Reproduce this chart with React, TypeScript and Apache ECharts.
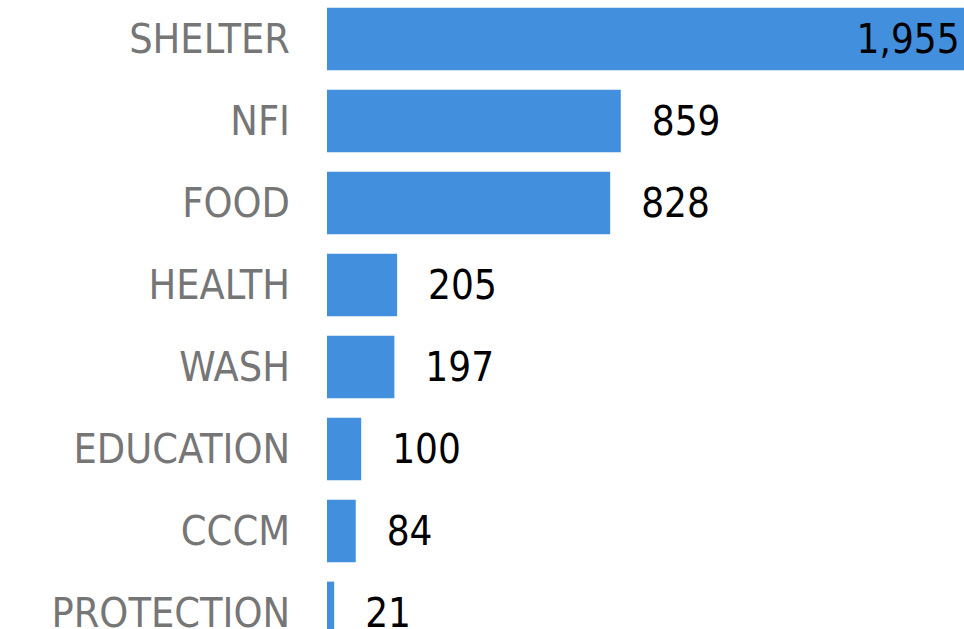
import React, { useEffect, useRef } from "react";
import * as echarts from "echarts";

const categories = ["SHELTER", "NFI", "FOOD", "HEALTH", "WASH", "EDUCATION", "CCCM", "PROTECTION"];
const values = [1955, 859, 828, 205, 197, 100, 84, 21];

const FONT = "'Liberation Sans Narrow', 'DejaVu Sans Condensed', sans-serif";

export default function App() {
  const ref = useRef<HTMLDivElement>(null);
  useEffect(() => {
    if (!ref.current) return;
    const chart = echarts.init(ref.current, null, { renderer: "svg" });
    chart.setOption({
      animation: false,
      backgroundColor: "#ffffff",
      grid: { left: 327, right: 0, top: 0, bottom: 0, containLabel: false },
      xAxis: {
        type: "value",
        min: 0,
        max: 2000,
        show: false,
      },
      yAxis: {
        type: "category",
        data: categories,
        inverse: true,
        axisLine: { show: false },
        axisTick: { show: false },
        splitLine: { show: false },
        axisLabel: {
          margin: 37,
          color: "#767676",
          fontSize: 41,
          fontFamily: FONT,
        },
      },
      series: [
        {
          type: "bar",
          data: values.map((v, i) =>
            i === 0
              ? { value: v, label: { position: "insideRight", distance: 36 } }
              : v
          ),
          barCategoryGap: "23.5%",
          itemStyle: { color: "#428fde" },
          label: {
            show: true,
            position: "right",
            distance: 31,
            color: "#000000",
            fontSize: 40,
            fontFamily: FONT,
            formatter: (p: any) => Number(p.value).toLocaleString("en-US"),
          },
        },
      ],
    });
    return () => chart.dispose();
  }, []);
  return (
    <div
      style={{
        position: "fixed",
        left: 0,
        top: 0,
        width: 964,
        height: 629,
        overflow: "hidden",
        background: "#fff",
      }}
    >
      <div
        ref={ref}
        style={{ position: "absolute", left: 0, top: -1.7, width: 1011.4, height: 656 }}
      />
    </div>
  );
}
